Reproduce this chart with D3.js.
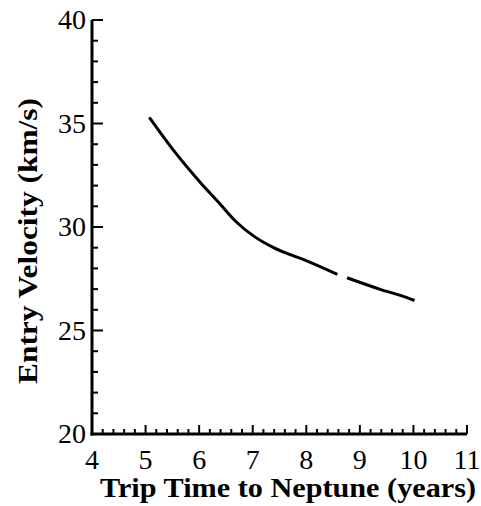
<!DOCTYPE html>
<html>
<head>
<meta charset="utf-8">
<script src="https://cdn.jsdelivr.net/npm/d3@7"></script>
<style>
  body { margin: 0; background: #fff; }
</style>
</head>
<body>
<div id="chart"></div>
<script>
const width = 481;
const height = 506;
const serif = '"Liberation Serif", "DejaVu Serif", serif';

// data (null = gap in the trace)
const tripYears = [5.07, 5.56, 6.03, 6.37, 6.68, 7.02, 7.39, 8.02, 8.58, null, 8.76, 9.38, 9.88, 10.02];
const entryVel = [35.3, 33.58, 32.13, 31.17, 30.28, 29.56, 29.0, 28.35, 27.71, null, 27.55, 26.99, 26.59, 26.45];
const xTicks = [4, 5, 6, 7, 8, 9, 10, 11];
const yTicks = [20, 25, 30, 35, 40];

const xScale = d3.scaleLinear().domain([4, 11]).range([92, 467]);
const yScale = d3.scaleLinear().domain([20, 40]).range([434, 20]);

const svg = d3.select('#chart')
  .append('svg')
  .attr('width', width)
  .attr('height', height);

// minor ticks
const xMinor = d3.range(40, 111, 2).map(d => d / 10);
const yMinor = d3.range(20, 41);

svg.append('g').selectAll('line').data(xMinor)
  .enter().append('line')
  .attr('x1', d => xScale(d)).attr('x2', d => xScale(d))
  .attr('y1', yScale(20))
  .attr('y2', d => yScale(20) - (Number.isInteger(d) ? 9 : 5))
  .attr('stroke', '#000').attr('stroke-width', 2);

svg.append('g').selectAll('line').data(yMinor)
  .enter().append('line')
  .attr('y1', d => yScale(d)).attr('y2', d => yScale(d))
  .attr('x1', xScale(4))
  .attr('x2', d => xScale(4) + (d % 5 === 0 ? 11 : 6))
  .attr('stroke', '#000').attr('stroke-width', 2);

// axis lines
svg.append('line')
  .attr('x1', xScale(4)).attr('x2', xScale(4))
  .attr('y1', yScale(40)).attr('y2', yScale(20) + 1.5)
  .attr('stroke', '#000').attr('stroke-width', 3);
svg.append('line')
  .attr('x1', xScale(4) - 1.5).attr('x2', xScale(11))
  .attr('y1', yScale(20)).attr('y2', yScale(20))
  .attr('stroke', '#000').attr('stroke-width', 3);

// tick labels
svg.append('g').selectAll('text').data(xTicks)
  .enter().append('text')
  .attr('x', d => xScale(d))
  .attr('y', 469)
  .attr('text-anchor', 'middle')
  .attr('font-family', serif)
  .attr('font-size', 28)
  .text(d => d);

svg.append('g').selectAll('text').data(yTicks)
  .enter().append('text')
  .attr('x', 86)
  .attr('y', d => yScale(d) + 9)
  .attr('text-anchor', 'end')
  .attr('font-family', serif)
  .attr('font-size', 28)
  .text(d => d);

// axis titles
svg.append('text')
  .attr('x', 288)
  .attr('y', 497)
  .attr('text-anchor', 'middle')
  .attr('font-family', serif)
  .attr('font-size', 28)
  .attr('font-weight', 'bold')
  .attr('textLength', 376)
  .attr('lengthAdjust', 'spacingAndGlyphs')
  .text('Trip Time to Neptune (years)');

svg.append('text')
  .attr('transform', 'translate(37,241) rotate(-90)')
  .attr('text-anchor', 'middle')
  .attr('font-family', serif)
  .attr('font-size', 28)
  .attr('font-weight', 'bold')
  .attr('textLength', 286)
  .attr('lengthAdjust', 'spacingAndGlyphs')
  .text('Entry Velocity (km/s)');

// curve
const pts = tripYears.map((t, i) => ({ t, v: entryVel[i] }));
const line = d3.line()
  .defined(d => d.t !== null)
  .x(d => xScale(d.t))
  .y(d => yScale(d.v))
  .curve(d3.curveMonotoneX);

svg.append('path')
  .datum(pts)
  .attr('d', line)
  .attr('fill', 'none')
  .attr('stroke', '#000')
  .attr('stroke-width', 3);
</script>
</body>
</html>
